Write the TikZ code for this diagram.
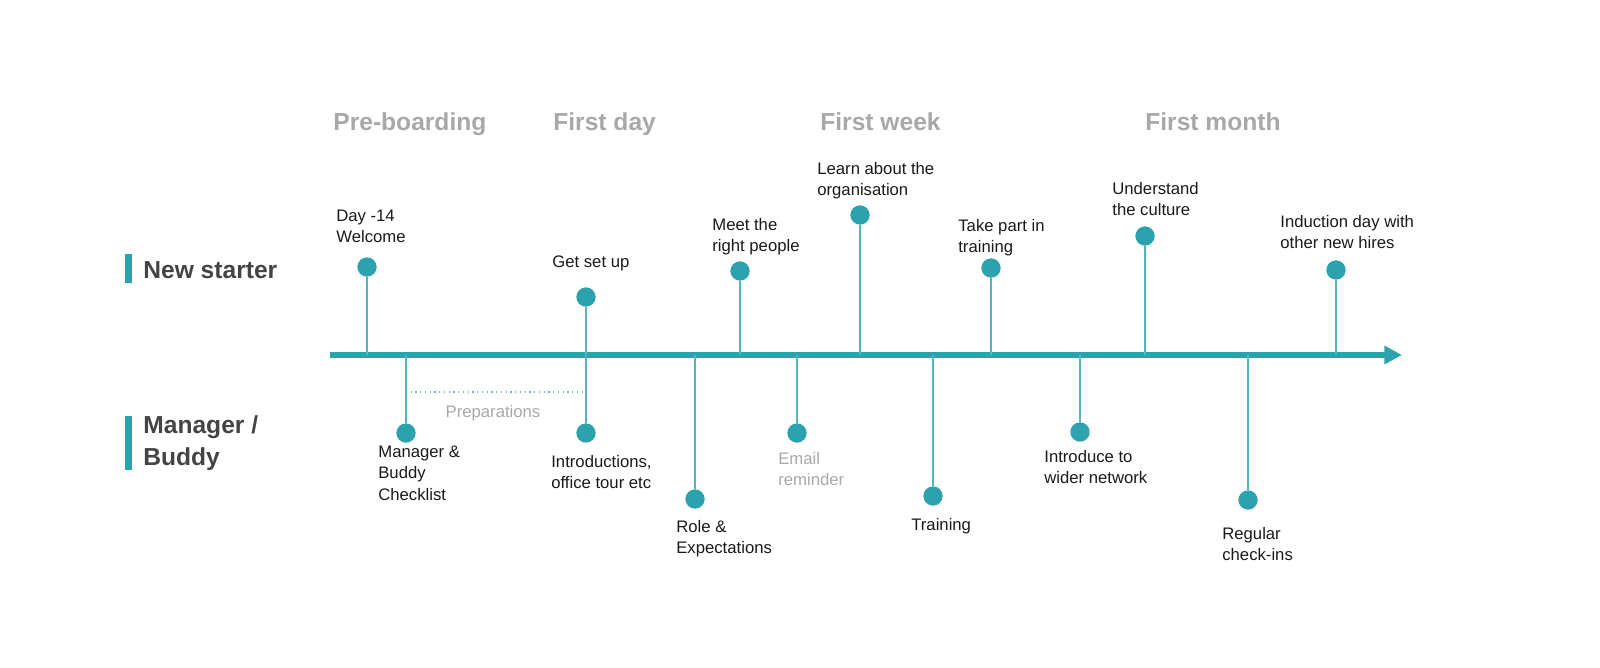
\documentclass[tikz,border=0pt]{standalone}
\usepackage{fontspec}
\setmainfont{Liberation Sans}
\usetikzlibrary{arrows.meta}
\definecolor{teal}{HTML}{2BA2AD}
\definecolor{hgray}{HTML}{A8A8A8}
\definecolor{dark}{HTML}{444444}
\begin{document}
\begin{tikzpicture}[x=0.02cm,y=-0.02cm,
  pin/.style={circle,fill=teal,inner sep=0pt,minimum size=11pt},
  stem/.style={draw=teal!80,line width=0.8pt},
  lbl/.style={anchor=north west,inner sep=0pt,font=\fontsize{9.5}{12}\selectfont,align=left,text=black!90},
  glbl/.style={lbl,text=hgray},
  phase/.style={anchor=base west,inner sep=0pt,font=\fontsize{14}{17}\selectfont\bfseries,text=hgray},
  lane/.style={anchor=west,inner sep=0pt,font=\fontsize{14}{18}\selectfont\bfseries,text=dark,align=left},
  lanebar/.style={fill=teal}]
% axis
\coordinate (as) at (330,355);
\coordinate (ae) at (1402,355);
\draw[teal,line width=3.2pt,-{Triangle[length=10pt,width=10pt]}] (as) -- (ae);
% phases
\node[phase] at (333,130) {Pre-boarding};
\node[phase] at (553,130) {First day};
\node[phase] at (820,130) {First week};
\node[phase] at (1145,130) {First month};
% lanes
\fill[lanebar] (125,254) rectangle (132,283);
\node[lane] (ns) at (143,270) {New starter};
\fill[lanebar] (125,416) rectangle (132,470);
\node[lane] (mb) at (143,443) {Manager /\\Buddy};
% top pins
\foreach \n/\x/\y/\tx/\ty/\t in {
 a/367/267/336/210/{Day -14\\Welcome},
 b/586/297/552/255/{Get set up},
 c/740/271/712/218/{Meet the\\right people},
 d/860/215/817/162/{Learn about the\\organisation},
 e/991/268/958/219/{Take part in\\training},
 f/1145/236/1112/182/{Understand\\the culture},
 g/1336/270/1280/215/{Induction day with\\other new hires}}{
 \node[pin] (\n) at (\x,\y) {};
 \coordinate (\n0) at (\x,355);
 \draw[stem] (\n) -- (\n0);
 \node[lbl] (\n t) at (\tx,\ty) {\t};
}
% bottom pins
\foreach \n/\x/\y/\tx/\ty/\s/\t in {
 p/406/433/378/446/lbl/{Manager \&\\Buddy\\Checklist},
 q/586/433/551/455/lbl/{Introductions,\\office tour etc},
 r/695/499/676/520/lbl/{Role \&\\Expectations},
 s/797/433/778/452/glbl/{Email\\reminder},
 u/933/496/911/518/lbl/{Training},
 v/1080/432/1044/450/lbl/{Introduce to\\wider network},
 w/1248/500/1222/527/lbl/{Regular\\check-ins}}{
 \node[pin] (\n) at (\x,\y) {};
 \coordinate (\n0) at (\x,355);
 \draw[stem] (\n) -- (\n0);
 \node[\s] (\n t) at (\tx,\ty) {\t};
}
% preparations
\coordinate (d1) at (406,392);
\coordinate (d2) at (586,392);
\draw[teal!70,line width=0.7pt,dotted] (d1) -- (d2);
\node[glbl,anchor=north] (prep) at (493,405) {Preparations};
\pgfresetboundingbox
\useasboundingbox (0,0) rectangle (1600,667);
\end{tikzpicture}
\end{document}
